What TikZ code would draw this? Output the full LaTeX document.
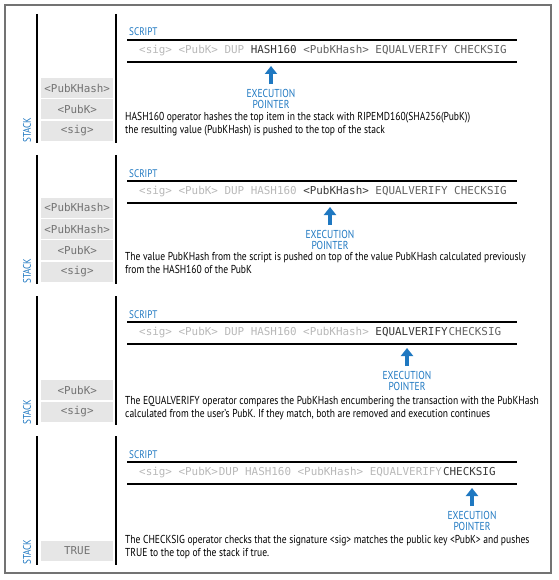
\documentclass[tikz,border=0pt]{standalone}
\usepackage{fontspec}
\setmainfont{PT Sans}[FakeStretch=0.83]
\setmonofont{DejaVu Sans Mono}
\usetikzlibrary{positioning,arrows.meta}
\definecolor{ptrblue}{HTML}{1F78C1}
\definecolor{cellgray}{HTML}{E6E6E6}
\colorlet{donegray}{black!28}
\colorlet{todogray}{black!62}
\newcommand{\dn}[1]{\textcolor{donegray}{#1}}
\newcommand{\cur}[1]{\textcolor{black!78}{#1}}

\begin{document}
\begin{tikzpicture}[x=1pt, y=-1pt,
    bar/.style={line width=1.8pt},
    rule/.style={line width=2pt},
    cell/.style={fill=cellgray, minimum width=72pt, minimum height=20pt, inner sep=0pt,
      font=\ttfamily\fontsize{10.9}{12}\selectfont, text=black!55},
    tag/.style={inner sep=0pt, text=ptrblue, font=\fontsize{11}{11}\selectfont},
    code/.style={anchor=west, inner sep=0pt, text=todogray,
      font=\ttfamily\fontsize{10.9}{12}\selectfont},
    ptr/.style={tag, align=center, font=\fontsize{11.5}{11}\selectfont},
    ptrarrow/.style={draw=ptrblue, line width=4.5pt, shorten <=5pt,
      -{Triangle[length=8pt, width=12pt]}},
    note/.style={anchor=north west, align=left, inner sep=0pt,
      font=\fontsize{11.5}{13}\selectfont}]
  \useasboundingbox (0,0) rectangle (558,580);
  \draw[black!55, line width=1.2pt] (5,5) rectangle (551,573);

  % the four frames
  \foreach \i/\t in {1/14, 2/155, 3/296, 4/436} {
    \draw[bar] (37,\t) -- (37,\t+129);
    \draw[bar] (116,\t) -- (116,\t+129);
    \node[tag, rotate=90, anchor=west] (stk\i) at (27,\t+129) {STACK};
    \node[tag, anchor=base west] (scr\i) at (129,\t+22) {SCRIPT};
    \draw[rule] (127,\t+26) -- (517,\t+26);
    \draw[rule] (127,\t+48) -- (517,\t+48);
  }

  % 1: HASH160
  \node[cell, anchor=south west] (c11) at (41,141) {<sig>};
  \node[cell, above=1pt of c11] (c12) {<PubK>};
  \node[cell, above=1pt of c12] (c13) {<PubKHash>};
  \node[code] (code1) at (139,51)
    {\dn{<sig> <PubK> DUP} \cur{HASH160} <PubKHash> EQUALVERIFY CHECKSIG};
  \node[ptr] (ptr1) at (271,99) {EXECUTION\\POINTER};
  \coordinate (tip1) at (271,66);
  \draw[ptrarrow] (ptr1.north) -- (tip1);
  \node[note] (txt1) at (125,112)
    {HASH160 operator hashes the top item in the stack with RIPEMD160(SHA256(PubK))\\
     the resulting value (PubKHash) is pushed to the top of the stack};

  % 2: push PubKHash
  \node[cell, anchor=south west] (c21) at (41,282) {<sig>};
  \node[cell, above=1pt of c21] (c22) {<PubK>};
  \node[cell, above=1pt of c22] (c23) {<PubKHash>};
  \node[cell, above=1pt of c23] (c24) {<PubKHash>};
  \node[code] (code2) at (139,192)
    {\dn{<sig> <PubK> DUP HASH160} \cur{<PubKHash>} EQUALVERIFY CHECKSIG};
  \node[ptr] (ptr2) at (330,240) {EXECUTION\\POINTER};
  \coordinate (tip2) at (330,207);
  \draw[ptrarrow] (ptr2.north) -- (tip2);
  \node[note] (txt2) at (125,252)
    {The value PubKHash from the script is pushed on top of the value PubKHash calculated previously\\
     from the HASH160 of the PubK};

  % 3: EQUALVERIFY
  \node[cell, anchor=south west] (c31) at (41,422) {<sig>};
  \node[cell, above=1pt of c31] (c32) {<PubK>};
  \node[code] (code3) at (139,333)
    {\dn{<sig> <PubK> DUP HASH160 <PubKHash>} \cur{EQUALVERIFY}\hspace{1pt}CHECKSIG};
  \node[ptr] (ptr3) at (407,381) {EXECUTION\\POINTER};
  \coordinate (tip3) at (407,348);
  \draw[ptrarrow] (ptr3.north) -- (tip3);
  \node[note] (txt3) at (125,396)
    {The EQUALVERIFY operator compares the PubKHash encumbering the transaction with the PubKHash\\
     calculated from the user's PubK. If they match, both are removed and execution continues};

  % 4: CHECKSIG
  \node[cell, anchor=south west] (c41) at (41,561) {TRUE};
  \node[code] (code4) at (139,473)
    {\dn{<sig> <PubK>\hspace{1pt}DUP HASH160 <PubKHash> EQUALVERIFY}\hspace{1pt}\cur{CHECKSIG}};
  \node[ptr] (ptr4) at (472,521) {EXECUTION\\POINTER};
  \coordinate (tip4) at (472,488);
  \draw[ptrarrow] (ptr4.north) -- (tip4);
  \node[note] (txt4) at (125,535)
    {The CHECKSIG operator checks that the signature <sig> matches the public key <PubK> and pushes\\
     TRUE to the top of the stack if true.};
\end{tikzpicture}
\end{document}
